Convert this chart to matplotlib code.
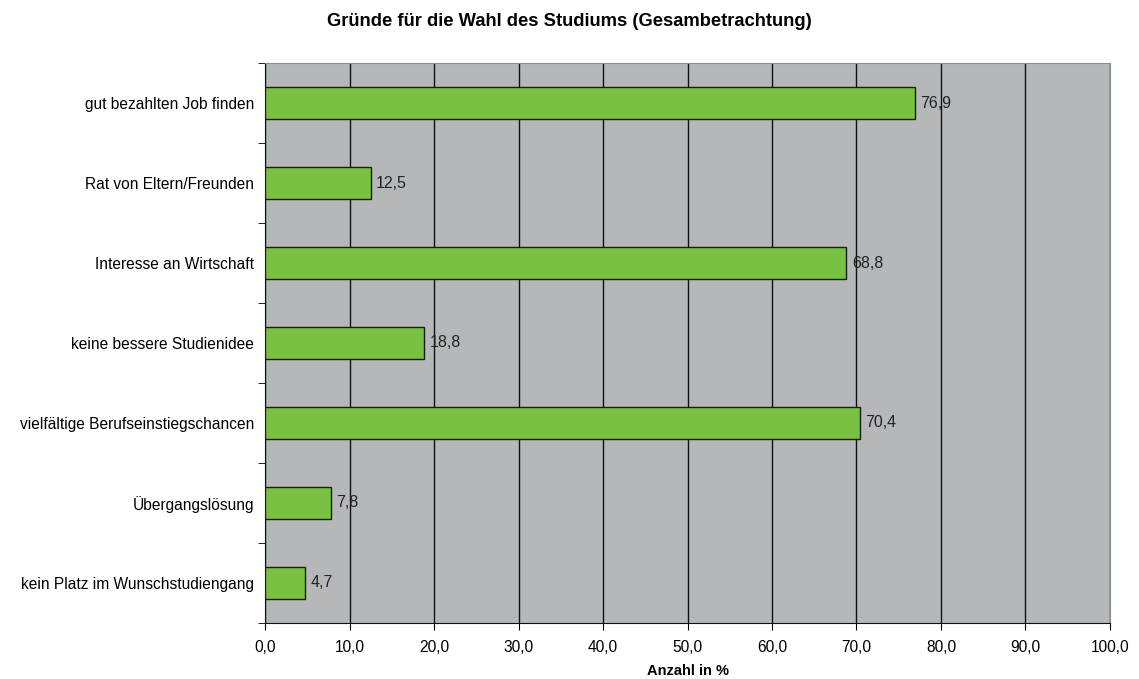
import matplotlib.pyplot as plt
import numpy as np

plt.rcParams['font.family'] = ['Liberation Sans', 'DejaVu Sans']

categories = ["gut bezahlten Job finden", "Rat von Eltern/Freunden", "Interesse an Wirtschaft",
              "keine bessere Studienidee", "vielfältige Berufseinstiegschancen",
              "Übergangslösung", "kein Platz im Wunschstudiengang"]
values = [76.9, 12.5, 68.8, 18.8, 70.4, 7.8, 4.7]
xticks = np.arange(0, 101, 10)

fig = plt.figure(figsize=(11.39, 6.79), dpi=100)
ax = fig.add_axes([0.2327, 0.0825, 0.7418, 0.8247])
ax.set_facecolor('#b5b8b9')

y = np.arange(len(categories))
ax.barh(y, values, height=0.39, color='#78c142', edgecolor='#1a1a1a', linewidth=1, zorder=3)
for yi, v in zip(y, values):
    ax.annotate(f"{v:.1f}".replace('.', ','), (v, yi), xytext=(4, 0), textcoords='offset points',
                va='center', ha='left', fontsize=11.5, color='#222222', zorder=4)

ax.set_ylim(len(categories) - 0.5, -0.5)
ax.set_yticks(y)
ax.set_yticklabels(categories, fontsize=11.2)
ax.tick_params(axis='y', which='major', length=0, pad=8)
ax.set_yticks(np.arange(-0.5, len(categories), 1), minor=True)
ax.tick_params(axis='y', which='minor', length=5, direction='out')

ax.set_xlim(0, 100)
ax.set_xticks(xticks)
ax.set_xticklabels([f"{t:.1f}".replace('.', ',') for t in xticks], fontsize=11.2)
ax.tick_params(axis='x', length=5, direction='out', pad=7)
ax.grid(axis='x', color='#111111', linewidth=1, zorder=1)

for s in ['top', 'right']:
    ax.spines[s].set_color('#8c8c8c')
for s in ['left', 'bottom']:
    ax.spines[s].set_color('#111111')

ax.set_xlabel("Anzahl in %", fontsize=10.5, fontweight='bold', labelpad=7)
fig.text(0.5, 0.968, "Gründe für die Wahl des Studiums (Gesambetrachtung)", ha='center', va='center',
         fontsize=13.2, fontweight='bold')

fig.savefig("out.png", dpi=100)
